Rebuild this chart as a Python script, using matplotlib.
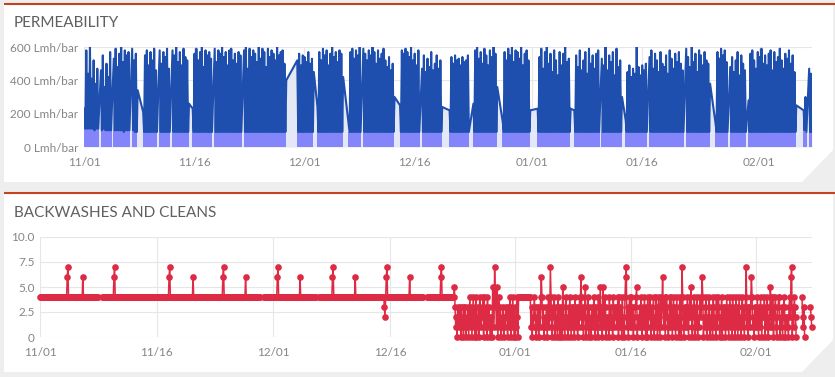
import numpy as np
import matplotlib

matplotlib.use("Agg")
import matplotlib.pyplot as plt
import matplotlib.dates as mdates
from matplotlib.patches import Polygon
from datetime import datetime

plt.rcParams["font.family"] = ["Lato", "DejaVu Sans"]

START = mdates.date2num(datetime(2019, 11, 1))
LAST_DAY = 99.2

tick_dates = ["2019-11-01", "2019-11-16", "2019-12-01", "2019-12-16",
              "2020-01-01", "2020-01-16", "2020-02-01"]
perm_ticks = [0, 200, 400, 600]
perm_tick_labels = ["0 Lmh/bar", "200 Lmh/bar", "400 Lmh/bar", "600 Lmh/bar"]
bw_ticks = [0, 2.5, 5, 7.5, 10]
bw_tick_labels = ["0", "2.5", "5.0", "7.5", "10.0"]

# permeability, one string per day, 4 six-hour slots: "peak/trough" in tens of Lmh/bar, "-" = no data
perm_nov = [
    "23/11 58/11 44/11 60/11", "41/11 52/10 38/11 47/11", "- 46/10 55/11 36/10",
    "50/10 42/10 57/10 -", "53/10 59/10 48/10 56/10", "60/10 51/9 58/10 55/10",
    "57/10 - 59/10 52/9", "56/9 34/- - -", "21/9 55/9 58/9 49/9",
    "57/9 52/9 59/9 46/9", "- 58/9 50/9 57/9", "54/9 59/9 47/9 -",
    "58/9 55/9 60/9 51/9", "57/9 49/9 59/9 54/9", "52/9 26/- - 23/9",
    "56/9 59/9 52/9 57/9", "60/9 48/9 58/9 55/9", "57/9 53/9 - 59/9",
    "51/9 58/9 56/9 60/9", "54/9 57/9 49/9 58/9", "59/9 52/9 56/9 50/9",
    "57/9 55/9 - 58/9", "60/9 47/9 59/9 54/9", "58/9 56/9 51/9 60/9",
    "53/9 59/9 57/9 48/9", "59/9 54/9 58/9 56/9", "52/9 60/9 55/9 57/9",
    "58/9 50/9 40/- -", "- - - -", "52/9 56/9 49/9 55/9",
]
perm_dec = [
    "54/9 51/9 57/9 50/9", "53/9 45/- - 24/9", "57/9 52/9 59/9 55/9",
    "58/9 49/9 56/9 60/9", "54/9 57/9 51/9 58/9", "56/9 42/- - -",
    "14/9 57/9 59/9 53/9", "58/9 55/9 60/9 -", "59/9 56/9 52/9 58/9",
    "55/9 60/9 57/9 50/9", "58/9 53/9 56/9 59/9", "52/9 48/9 54/9 46/9",
    "50/9 30/- - -", "25/9 58/9 56/9 59/9", "57/9 54/9 60/9 52/9",
    "56/9 49/9 58/9 -", "47/9 55/9 45/9 53/9", "48/9 57/9 46/9 50/9",
    "55/9 47/9 52/9 24/-", "- - - 22/9", "54/9 50/9 55/9 52/9",
    "53/9 49/9 54/9 51/9", "52/9 55/9 - -", "26/9 58/9 60/9 53/9",
    "57/9 50/9 59/9 55/9", "49/9 58/9 54/9 60/9", "56/9 36/- - -",
    "15/9 57/9 52/9 59/9", "55/9 60/9 51/9 58/9", "57/9 53/9 60/9 49/9",
    "56/9 58/9 52/9 22/-",
]
perm_jan = [
    "- - - 23/9", "54/9 59/9 47/9 57/9", "60/9 50/9 56/9 45/9",
    "58/9 52/9 43/9 57/9", "49/9 56/9 60/9 51/9", "53/9 23/- - 22/9",
    "55/9 48/9 58/9 46/9", "52/9 57/9 44/9 59/9", "50/9 55/9 47/9 56/9",
    "58/9 - 53/9 49/9", "60/9 46/9 55/9 51/9", "57/9 43/9 59/9 48/9",
    "52/9 30/- - 16/9", "45/9 49/9 42/9 47/9", "44/9 60/9 48/9 43/9",
    "49/9 46/9 50/9 -", "54/9 58/9 47/9 56/9", "52/9 45/9 57/9 50/9",
    "48/9 55/9 44/9 58/9", "53/9 47/9 56/9 51/9", "57/9 50/9 46/9 -",
    "59/9 54/9 48/9 60/9", "51/9 56/9 45/9 58/9", "55/9 49/9 57/9 52/9",
    "50/9 38/- - -", "14/9 57/9 53/9 59/9", "55/9 58/9 51/9 -",
    "48/9 54/9 45/9 52/9", "57/9 43/9 55/9 50/9", "46/9 - 28/9 56/9",
    "58/9 52/9 47/9 57/9",
]
perm_feb = [
    "54/9 59/9 50/9 55/9", "49/9 56/9 58/9 46/9", "57/9 51/9 54/9 59/9",
    "52/9 47/9 56/9 53/9", "58/9 50/9 55/9 45/9", "25/- - - -",
    "22/10 30/9 - 47/9", "44/9",
]

# backwashes and cleans, one string per day, 12 two-hour slots, "-" = no data
FLAT = "444444444444"
bw_nov = [
    FLAT, FLAT, FLAT, "444444674444", FLAT, "444444644444",
    FLAT, "444444------", FLAT, "444444674444", FLAT, FLAT,
    FLAT, FLAT, FLAT, FLAT, "444444467444", FLAT,
    FLAT, "444444446444", FLAT, "4444444--444", FLAT, "444444674444",
    FLAT, FLAT, "444446444444", FLAT, "4444-----444", FLAT,
]
bw_dec = [
    "444444674444", FLAT, FLAT, "444446444444", FLAT, "444444----44",
    FLAT, "444444467444", FLAT, FLAT, "444444644444", FLAT,
    FLAT, FLAT, "444324674444", FLAT, FLAT, "444444644444",
    FLAT, "444------444", FLAT, "444444674444", FLAT, "444531203213",
    "203120313021", "302413024130", "402130421324", "041320413201", "205317431502", "413021302132",
    "203124031420",
]
bw_jan = [
    "301240444444", FLAT, "413021432013", "203146413021", "130241274103", "240312041302",
    "305120341203", "142031320413", "203142641302", "350214031203", "214303120413", "513052143021",
    "204131204132", "312404132041", "204671302413", "413021345021", "231402314203", "041324031240",
    "214301420413", "631402431024", "142034130241", "203410742031", "314203425103", "240314021342",
    "364021340213", "402130431204", "124302140321", "302413024130", "413204130241", "203413024713",
    "032146412031",
]
bw_feb = [
    "314203142032", "240314302154", "134023410234", "402130243012", "210342670314", "320--------4",
    "2130--------", "321",
]


def read_perm(days):
    line_x, line_y, base_x, base_y = [], [], [], []
    for d, day in enumerate(days):
        for k, tok in enumerate(day.split()):
            s = START + d + k / 4
            peak, trough = (tok.split("/") + ["-"])[:2]
            if peak != "-":
                line_x.append(s + 1 / 16)
                line_y.append(int(peak) * 10)
            level = np.nan
            if trough != "-":
                line_x.append(s + 3 / 16)
                line_y.append(int(trough) * 10)
                level = int(trough) * 10
            base_x += [s, s + 0.25]
            base_y += [level, level]
    return line_x, line_y, base_x, np.array(base_y, dtype=float)


def read_bw(days):
    xs, ys = [], []
    for d, day in enumerate(days):
        for k, ch in enumerate(day):
            xs.append(START + d + k / 12)
            ys.append(np.nan if ch == "-" else float(ch))
    return xs, ys


px, py, bx, by = read_perm(perm_nov + perm_dec + perm_jan + perm_feb)
wx, wy = read_bw(bw_nov + bw_dec + bw_jan + bw_feb)

W, H = 835, 377
fig = plt.figure(figsize=(W / 100, H / 100), dpi=100)
fig.patch.set_facecolor("#eeeeee")

# cards in pixel coordinates
bg = fig.add_axes([0, 0, 1, 1], zorder=-10)
bg.set_xlim(0, W)
bg.set_ylim(H, 0)
bg.axis("off")
for top, bottom in [(4, 182), (193, 372)]:
    bg.add_patch(Polygon([(4, top), (833, top), (833, bottom - 32), (802, bottom), (4, bottom)],
                         closed=True, facecolor="white", edgecolor="none"))
    bg.plot([4, 835], [top, top], color="#c4431f", lw=1.5, solid_capstyle="butt")
bg.text(14, 23, "PERMEABILITY", fontsize=11, color="#606060", va="center")
bg.text(14, 213, "BACKWASHES AND CLEANS", fontsize=11, color="#606060", va="center")

tick_pos = mdates.datestr2num(tick_dates)
label_style = dict(length=0, labelsize=8.5, labelcolor="#858585")

ax1 = fig.add_axes([84 / W, 1 - 147 / H, 728 / W, 100 / H])
ax1.fill_between(px, 0, py, color="#e4e7f4", lw=0, zorder=1)
ax1.fill_between(bx, 0, by, color="#8585fb", lw=0, zorder=2)
ax1.plot(px, py, color="#1e4fae", lw=1.5, zorder=3)
ax1.set_ylim(0, 600)
ax1.set_yticks(perm_ticks, labels=perm_tick_labels)

ax2 = fig.add_axes([40 / W, 1 - 337 / H, 772 / W, 100 / H])
ax2.plot(wx, wy, color="#dd2b45", lw=1.1, marker="o", ms=4.8, mew=0, zorder=3, clip_on=False)
ax2.set_ylim(0, 10)
ax2.set_yticks(bw_ticks, labels=bw_tick_labels)

for ax in (ax1, ax2):
    ax.set_facecolor("none")
    ax.set_xlim(START, START + LAST_DAY)
    ax.set_xticks(tick_pos)
    ax.xaxis.set_major_formatter(mdates.DateFormatter("%m/%d"))
    ax.grid(True, color="#e6e6e6", lw=0.8)
    ax.set_axisbelow(True)
    for s in ax.spines.values():
        s.set_visible(False)
    ax.tick_params(axis="x", pad=7, **label_style)
    ax.tick_params(axis="y", pad=4, **label_style)

fig.savefig("out.png", dpi=100)
plt.close()
